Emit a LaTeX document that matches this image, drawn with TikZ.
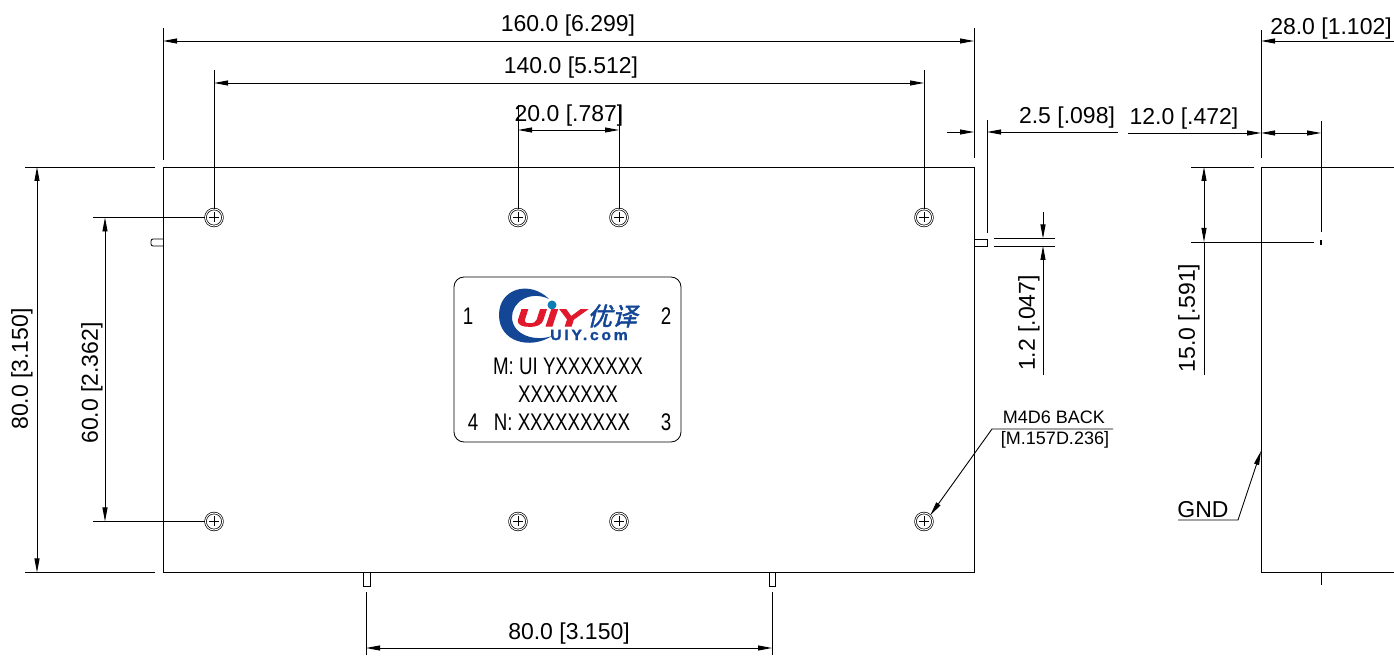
\documentclass[tikz,border=0pt]{standalone}
\usepackage{fontspec}
\setmainfont{Liberation Sans}
\newfontfamily\narrowfont[FakeStretch=0.78]{Liberation Sans}
\newfontfamily\wideitfont[FakeStretch=1.7,FakeBold=4]{Liberation Sans Bold Italic}
\newfontfamily\comfont[FakeStretch=1.05,LetterSpace=18,FakeBold=1.5]{Liberation Sans Bold}
\newfontfamily\cjk[FakeSlant=0.25,FakeBold=2]{Noto Sans CJK SC}
\usetikzlibrary{arrows.meta}
\definecolor{logoblue}{RGB}{20,70,150}
\definecolor{logored}{RGB}{225,25,45}
\tikzset{
  outline/.style={line width=0.42pt},
  dimline/.style={line width=0.45pt,{Triangle[length=7pt,width=2.5pt]}-{Triangle[length=7pt,width=2.5pt]}},
  dimto/.style={line width=0.45pt,-{Triangle[length=7pt,width=2.5pt]}},
  extline/.style={line width=0.45pt},
  dimtext/.style={font=\fontsize{11.5}{13}\selectfont,inner sep=0pt},
  smalltext/.style={font=\fontsize{9}{11}\selectfont,inner sep=0pt},
  platetext/.style={font=\fontsize{12}{14}\selectfont\narrowfont,inner sep=0pt},
  hole/.style={circle,draw,line width=0.35pt,double,double distance=0.5pt,minimum size=8.5pt,inner sep=0pt},
}
\begin{document}
\begin{tikzpicture}[x=0.5pt,y=-0.5pt]
\useasboundingbox (0,0) rectangle (1394,657);
\draw[outline] (163,167) rectangle (974,572);
\draw[outline,rounded corners=1pt] (163,239) -- (151,239) -- (151,246) -- (163,246);
\draw[outline] (974,239) -- (987,239) -- (987,246) -- (974,246);
\draw[outline] (363,572) -- (363,586) -- (370,586) -- (370,572);
\draw[outline] (769,572) -- (769,586) -- (775,586) -- (775,572);
\draw[outline] (1394,167) -- (1261,167) -- (1261,572) -- (1394,572);
\draw[outline] (1321,572) -- (1321,585);
\draw[line width=1pt] (1321,240) -- (1321,245);
\foreach \n/\x/\y in {ha/214/217.5,hb/518/217.5,hc/619/217.5,hd/924/217.5,he/214/521.5,hf/518/521.5,hg/619/521.5,hh/924/521.5} {
  \node[hole] (\n) at (\x,\y) {};
  \draw[line width=0.35pt] (\x-5,\y) -- (\x+5,\y) (\x,\y-5) -- (\x,\y+5);
}
\draw[extline] (163,28) -- (163,160);
\draw[extline] (974,28) -- (974,158);
\draw[extline] (214,70) -- (ha.north);
\draw[extline] (924,70) -- (hd.north);
\draw[extline] (518,105) -- (hb.north);
\draw[extline] (619,105) -- (hc.north);
\draw[dimline] (163,41) -- (974,41);
\draw[dimline] (214,83) -- (924,83);
\draw[dimline] (518,130) -- (619,130);
\node[dimtext] (topw) at (568,26) {160.0 [6.299]};
\node[dimtext] (holew) at (571,68) {140.0 [5.512]};
\node[dimtext] (midw) at (569,116) {20.0 [.787]};
\draw[extline] (25,167) -- (155,167);
\draw[extline] (25,572.5) -- (155,572.5);
\draw[extline] (93,217.5) -- (ha.west);
\draw[extline] (93,521.5) -- (he.west);
\draw[dimline] (37,167) -- (37,572.5);
\draw[dimline] (105,217.5) -- (105,521.5);
\node[dimtext,rotate=90] (lefth) at (22,369) {80.0 [3.150]};
\node[dimtext,rotate=90] (holeh) at (92,383) {60.0 [2.362]};
\draw[extline] (366,592) -- (366,655);
\draw[extline] (772,592) -- (772,655);
\draw[dimline] (366,648) -- (772,648);
\node[dimtext] (pinw) at (569,634) {80.0 [3.150]};
\draw[extline] (987,120) -- (987,233);
\draw[dimto] (947,132) -- (974,132);
\draw[dimto] (1118,132) -- (987,132);
\node[dimtext] (tabw) at (1067,118) {2.5 [.098]};
\draw[extline] (1261,30) -- (1261,158);
\draw[extline] (1321,121) -- (1321,232);
\draw[dimto] (1128,133) -- (1261,133);
\draw[dimline] (1261,133) -- (1321,133);
\node[dimtext] (pinx) at (1184,119) {12.0 [.472]};
\draw[dimto] (1394,41) -- (1261,41);
\node[dimtext] (sidew) at (1331,29) {28.0 [1.102]};
\draw[extline] (994,238.5) -- (1055,238.5);
\draw[extline] (994,246) -- (1055,246);
\draw[dimto] (1043,212) -- (1043,238.5);
\draw[dimto] (1043,375) -- (1043,246);
\node[dimtext,rotate=90] (tabh) at (1029,323) {1.2 [.047]};
\draw[extline] (1191,167) -- (1254,167);
\draw[extline] (1191,242) -- (1314,242);
\draw[dimline] (1204,167) -- (1204,242);
\draw[extline] (1204,242) -- (1204,375);
\node[dimtext,rotate=90] (pinh) at (1189,318) {15.0 [.591]};
\draw[dimto] (1113,429) -- (992,429) -- (hh.north east);
\node[smalltext] (thda) at (1054,417) {M4D6 BACK};
\node[smalltext] (thdb) at (1055,440) {[M.157D.236]};
\draw[dimto] (1178,520) -- (1238,520) -- (1261,451);
\node[dimtext] (gnd) at (1203,510) {GND};
\draw[outline,rounded corners=5pt] (454,277) rectangle (681,442);
\node[platetext] (pa) at (468,316) {1};
\node[platetext] (pb) at (666,316) {2};
\node[platetext] (pc) at (666,422) {3};
\node[platetext] (pd) at (473,422) {4};
\node[platetext] (model) at (568,366) {M: UI YXXXXXXX};
\node[platetext] (modelb) at (568,394) {XXXXXXXX};
\node[platetext] (serial) at (562,422) {N: XXXXXXXXX};
\fill[logoblue] (549,299) .. controls (530,280) and (499,288) .. (499,315)
  .. controls (499,342) and (530,350) .. (552,336)
  .. controls (535,342) and (512,335) .. (512,317)
  .. controls (512,302) and (530,290) .. (549,299) -- cycle;
\fill[logoblue!70!cyan] (552,305) circle (4.5);
\node[inner sep=0pt,text=logored,font=\fontsize{12}{14}\selectfont\wideitfont] (logouiy) at (550,318) {UIY};
\node[inner sep=0pt,text=logoblue,font=\fontsize{12.5}{14}\selectfont\cjk] (logocn) at (612,316) {优译};
\node[inner sep=0pt,text=logoblue,font=\fontsize{7.5}{8}\selectfont\comfont] (logocom) at (589,335) {UIY.com};
\end{tikzpicture}
\end{document}
